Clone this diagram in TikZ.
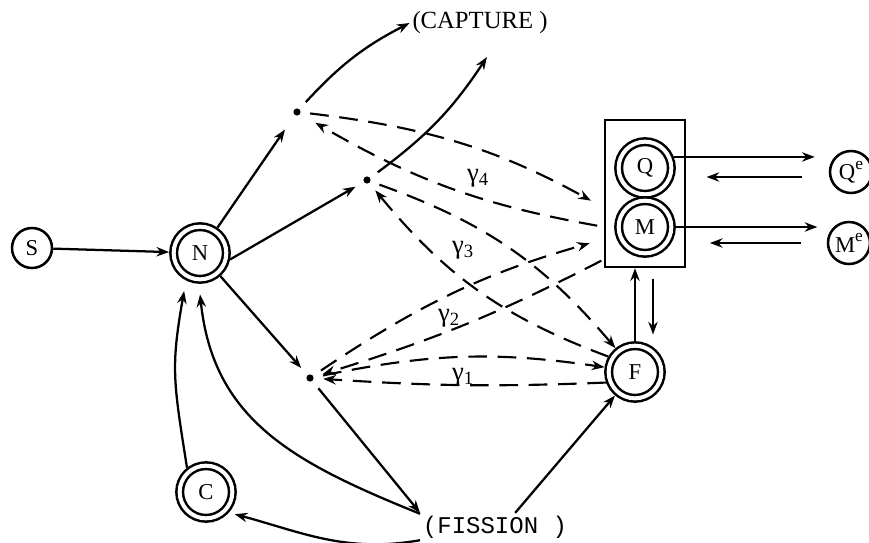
\documentclass[tikz,border=0pt]{standalone}
\usepackage{fontspec}
\setmainfont{Liberation Serif}
\newfontfamily\monofont{Liberation Mono}
\usetikzlibrary{arrows.meta}
\begin{document}
\begin{tikzpicture}[x=0.75pt,y=0.75pt,
  >={Stealth[length=9.5pt,width=7pt]},
  sol/.style={draw, line width=1.7pt, ->},
  dsh/.style={draw, line width=1.6pt, dash pattern=on 14pt off 8pt, ->},
  ring/.style={circle, draw, line width=1.9pt, double=white, double distance=3pt,
    minimum size=39.5pt, inner sep=0pt, outer sep=3.4pt, font=\fontsize{17}{17}\selectfont},
  single/.style={circle, draw, line width=1.9pt, minimum size=30pt, inner sep=0pt,
    font=\fontsize{17}{17}\selectfont},
  hub/.style={circle, inner sep=0pt, minimum size=19.5pt},
  boxst/.style={draw, line width=1.8pt, minimum width=60pt, minimum height=110.25pt, inner sep=0pt},
  lbl/.style={font=\fontsize{20}{20}\selectfont, inner sep=0pt},
]
\useasboundingbox (0,0) rectangle (869,-543);

% nodes
\node[single] (S) at (32,-248) {S};
\node[ring] (N) at (200,-253) {N};
\node[ring] (C) at (206,-492) {C};
\node[ring] (F) at (635,-372) {F};
\node[boxst] (box) at (645,-193.5) {};
\node[ring] (Q) at (645,-168) {Q};
\node[ring] (M) at (645,-227) {M};
\node[single, minimum size=31.5pt] (Qe) at (851,-172) {Q\raisebox{0.45em}{\fontsize{13}{13}\selectfont e}};
\node[single, minimum size=31.5pt] (Me) at (849,-243) {M\raisebox{0.45em}{\fontsize{13}{13}\selectfont e}};

\node[hub] (d1) at (297,-112) {};
\node[hub] (d2) at (367,-180) {};
\node[hub] (d3) at (310,-378) {};
\fill (d1.center) circle (2.7pt);
\fill (d2.center) circle (2.7pt);
\fill (d3.center) circle (2.7pt);

\node[font=\fontsize{18.5}{18.5}\selectfont, inner sep=2pt] (cap) at (480,-23) {(CAPTURE )};
\node[font=\monofont\fontsize{18}{18}\selectfont, inner sep=2pt] (fis) at (495,-527) {(FISSION )};
\coordinate (capB) at (487,-57);

\node[lbl] (g4) at (478,-178) {γ\textsubscript{4}};
\node[lbl] (g3) at (463,-250) {γ\textsubscript{3}};
\node[lbl] (g2) at (449,-318) {γ\textsubscript{2}};
\node[lbl] (g1) at (463,-377) {γ\textsubscript{1}};

% solid connectors
\draw[sol] (S) -- (N);
\draw[sol, shorten >=6pt] (N) -- (d1);
\draw[sol] (d1) to[bend left=10] (cap.west);
\draw[sol] (N.-12) -- (d2);
\draw[sol] (d2) to[bend right=10] (capB);
\draw[sol] (N) -- (d3);
\draw[sol] (d3) -- (fis.north west);
\draw[sol] (fis.35) -- (F);
\draw[sol, shorten >=4.5pt] (fis.190) to[out=190,in=-15] (C.-42);
\draw[sol, shorten >=8pt, looseness=1.1] (fis.170) to[out=158,in=-84] (N.268);
\draw[sol, shorten >=8pt, looseness=1.2] (C.128) to[out=99,in=-100] (N.243);

% dashed connectors
\draw[dsh, shorten >=11pt] (d1) to[bend left=11] (box.199);
\draw[dsh, shorten <=5pt, shorten >=6pt] (box.219) to[bend left=10] (d1);
\draw[dsh] (d2) to[bend left=15] (F);
\draw[dsh] (F.150) to[bend left=15] (d2);
\draw[dsh, shorten >=11pt] (d3) to[bend left=9] (box.228);
\draw[dsh, shorten <=2pt] (box.238) to[bend left=5] (d3);
\draw[dsh] (d3) to[bend left=10] (F);
\draw[dsh] (F.200) to[bend left=3] (d3);

% Q, M exchange arrows
\draw[sol, shorten >=10.5pt] (Q.21) -- (Q.21 -| Qe.west);
\draw[sol, shorten <=20pt, shorten >=23pt] ([yshift=-3.75pt]Qe.west) -- ([yshift=-3.75pt]Qe.west -| Q.east);
\draw[sol, shorten >=7pt] (M.east) -- (M.east -| Me.west);
\draw[sol, shorten <=19pt, shorten >=25.5pt] (Me.west) -- (Me.west -| M.east);

% F and box
\draw[sol] (F.north) -- (F.north |- box.south);
\draw[sol, shorten <=8pt, shorten >=5pt] ([xshift=6pt]box.south) -- ([xshift=6pt]box.south |- F.north);
\end{tikzpicture}
\end{document}
